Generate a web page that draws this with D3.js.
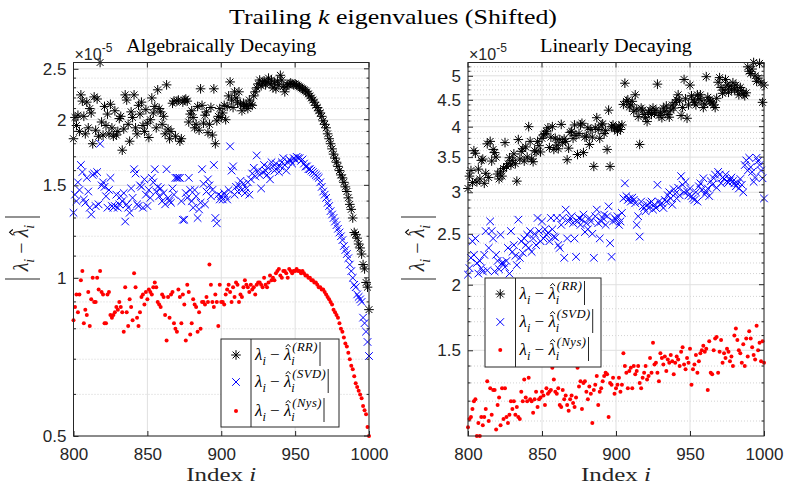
<!DOCTYPE html>
<html><head><meta charset="utf-8">
<script src="https://cdn.jsdelivr.net/npm/d3@7"></script>
<style>body{margin:0;background:#fff}svg{display:block}</style>
</head><body>
<svg id="chart" width="785" height="485"></svg>
<script>
// ---------- data (values ×1e-5) ----------
const indices = d3.range(800, 1001);           // Index i
const xTicks = [800, 850, 900, 950, 1000];
const leftYTicks = [0.5, 1, 1.5, 2, 2.5];
const rightYTicks = [1.5, 2, 2.5, 3, 3.5, 4, 4.5, 5];
const seriesNames = ["RR", "SVD", "Nys"];

const algRR = [
1.84,2.02,1.95,2.04,1.90,2.23,2.17,2.03,1.88,2.16,
1.93,2.10,2.06,1.80,2.21,1.91,2.19,1.86,2.57,1.98,
1.87,2.12,1.95,2.05,1.88,2.14,1.93,1.86,2.08,1.87,
1.90,2.01,2.03,1.75,1.92,2.23,2.18,1.96,1.82,2.07,
2.02,2.23,1.93,1.88,2.13,2.05,2.16,1.95,1.90,2.09,
1.97,1.85,2.00,2.20,2.06,2.12,1.93,2.28,2.10,2.07,
1.96,2.03,1.88,2.33,1.92,1.84,1.90,2.15,2.17,1.86,
2.17,2.18,1.82,1.84,2.16,2.18,2.19,2.17,1.98,2.05,
2.08,2.02,1.93,1.96,2.12,1.91,2.29,2.13,1.97,2.04,
2.07,1.89,1.96,2.11,1.87,2.29,1.80,1.99,2.03,2.10,
2.02,2.06,2.13,2.00,2.12,2.22,2.36,2.18,2.11,2.26,
2.20,2.16,2.26,2.14,2.08,2.15,2.12,2.13,2.10,2.18,
2.14,2.13,2.22,2.26,2.30,2.34,2.38,2.32,2.35,2.37,
2.33,2.36,2.40,2.34,2.38,2.30,2.35,2.29,2.37,2.33,
2.43,2.38,2.31,2.26,2.31,2.33,2.34,2.35,2.34,2.33,
2.34,2.33,2.32,2.31,2.30,2.29,2.28,2.27,2.26,2.24,
2.22,2.20,2.18,2.16,2.13,2.11,2.08,2.06,2.03,1.99,
1.96,1.93,1.88,1.84,1.80,1.76,1.72,1.69,1.66,1.63,
1.60,1.57,1.55,1.52,1.49,1.46,1.42,1.38,1.35,1.30,
1.22,1.21,1.19,1.16,1.14,1.11,1.06,1.04,0.98,0.96,
0.87];
const algSVD = [
1.33,1.44,1.40,1.52,1.47,1.64,1.59,1.41,1.39,1.55,
1.46,1.36,1.32,1.57,1.58,1.37,1.59,1.38,1.80,1.50,
1.52,1.49,1.43,1.36,1.47,1.55,1.37,1.36,1.37,1.44,
1.36,1.38,1.43,1.40,1.45,1.28,1.38,1.36,1.33,1.48,
1.42,1.61,1.58,1.38,1.37,1.50,1.49,1.36,1.54,1.44,
1.37,1.47,1.42,1.55,1.52,1.61,1.46,1.49,1.43,1.48,
1.40,1.45,1.38,1.61,1.42,1.40,1.39,1.48,1.44,1.55,
1.55,1.55,1.55,1.40,1.29,1.29,1.45,1.42,1.55,1.47,
1.40,1.36,1.47,1.43,1.30,1.35,1.39,1.61,1.51,1.38,
1.46,1.54,1.50,1.43,1.47,1.64,1.30,1.27,1.44,1.41,
1.43,1.41,1.45,1.43,1.41,1.47,1.78,1.60,1.63,1.44,
1.49,1.46,1.50,1.53,1.47,1.51,1.45,1.48,1.52,1.44,
1.54,1.58,1.62,1.56,1.71,1.60,1.57,1.48,1.59,1.64,
1.60,1.57,1.62,1.54,1.66,1.63,1.60,1.65,1.62,1.59,
1.63,1.66,1.69,1.64,1.60,1.66,1.68,1.67,1.65,1.69,
1.68,1.70,1.69,1.69,1.67,1.68,1.65,1.63,1.63,1.61,
1.61,1.60,1.59,1.58,1.57,1.56,1.55,1.52,1.49,1.46,
1.44,1.42,1.39,1.37,1.34,1.32,1.30,1.28,1.26,1.24,
1.22,1.20,1.18,1.15,1.13,1.11,1.09,1.06,1.03,1.00,
0.97,0.96,0.93,0.92,0.91,0.90,0.84,0.82,0.79,0.755,
0.71];
const algNys = [
0.83,0.88,0.93,0.86,0.93,0.99,1.03,0.82,0.87,0.85,
0.94,0.81,0.91,1.00,0.90,0.90,1.00,0.95,1.03,0.94,
0.93,0.82,0.82,0.93,0.94,0.85,0.84,0.85,0.86,0.88,
0.87,0.90,0.88,0.86,0.79,0.96,0.86,0.81,0.91,0.88,
0.83,1.02,0.96,0.84,0.81,0.86,0.92,0.93,0.89,0.94,
0.91,0.95,0.94,0.93,0.96,0.98,0.96,0.90,0.89,0.88,
0.93,0.92,0.85,0.76,0.92,0.84,0.93,0.94,0.82,0.80,
0.79,0.95,0.92,0.82,0.93,0.89,0.76,0.97,0.94,0.78,
0.82,0.91,0.89,0.88,0.79,0.86,0.80,0.90,0.90,0.89,
0.92,0.90,1.06,0.97,0.90,0.88,0.93,0.90,0.81,0.97,
0.90,0.90,0.89,0.93,0.95,0.97,0.94,0.90,0.96,0.92,
0.98,0.97,0.90,0.93,0.92,0.96,0.99,0.97,0.96,0.94,
0.97,0.95,0.96,0.93,0.97,0.98,0.98,0.97,0.96,1.00,
0.97,0.96,0.98,1.01,0.99,1.00,0.99,1.02,1.03,1.04,
1.01,1.00,1.03,1.03,1.02,1.00,1.04,1.03,1.02,1.03,
1.03,1.04,1.03,1.03,1.02,1.03,1.02,1.01,1.01,1.00,
1.00,0.99,0.99,0.98,0.98,0.97,0.96,0.96,0.95,0.95,
0.94,0.93,0.92,0.91,0.90,0.89,0.87,0.86,0.85,0.84,
0.82,0.80,0.79,0.77,0.75,0.74,0.72,0.70,0.68,0.67,
0.65,0.63,0.62,0.61,0.60,0.59,0.57,0.56,0.55,0.52,
0.50];
const linRR = [
3.05,3.22,3.30,3.13,3.60,3.56,3.14,3.32,3.18,3.45,
3.47,3.12,3.26,3.71,3.20,3.75,3.44,3.62,3.57,3.50,
3.25,3.18,3.29,3.22,3.33,3.73,3.36,3.40,3.49,3.38,
3.45,3.55,3.40,3.15,3.78,3.47,3.59,3.63,3.44,3.66,
3.50,4.00,3.75,3.47,3.43,3.60,3.58,3.75,3.68,3.58,
3.80,3.86,3.88,3.92,3.98,3.65,3.82,4.00,3.62,3.80,
3.69,3.63,3.78,4.04,3.73,3.79,3.75,3.46,3.64,3.90,
3.92,3.80,4.03,3.85,3.54,3.88,4.03,4.06,3.57,3.82,
3.84,3.98,3.70,3.95,3.82,3.36,3.98,4.16,3.95,3.80,
4.03,4.05,3.88,3.93,3.62,4.30,3.36,4.00,4.03,3.96,
3.98,3.92,4.01,3.95,4.03,4.41,4.84,4.47,4.50,4.36,
4.40,4.47,4.28,4.60,4.32,4.18,3.70,4.34,4.30,4.22,
4.16,4.09,4.26,4.30,4.22,4.34,4.25,4.30,4.82,4.20,
4.25,4.16,4.34,4.28,4.38,4.22,4.17,4.30,4.40,4.34,
4.45,4.50,4.60,4.48,4.20,4.35,4.92,4.52,4.15,4.40,
4.80,4.58,4.50,4.45,4.40,4.60,4.52,4.60,4.48,4.35,
4.42,4.98,4.55,4.50,4.47,4.44,4.40,4.35,4.53,4.86,
4.96,4.75,4.63,4.70,4.92,4.80,4.65,4.78,4.70,4.85,
4.72,4.80,4.68,4.60,4.75,4.69,4.62,4.58,4.64,5.20,
5.10,5.05,5.15,5.30,5.00,4.88,4.95,5.28,4.85,4.45,
4.80];
const linSVD = [
2.09,2.15,2.25,2.42,2.28,2.45,2.20,2.10,2.22,2.15,
2.12,2.28,2.53,2.13,2.35,2.64,2.53,2.45,2.12,2.28,
2.22,2.14,2.49,2.20,2.20,2.16,2.22,2.35,2.10,2.53,
2.31,2.38,2.27,2.18,2.66,2.25,2.42,2.30,2.45,2.38,
2.49,2.35,2.53,2.31,2.45,2.50,2.38,2.68,2.53,2.42,
2.64,2.45,2.55,2.49,2.51,2.42,2.68,2.55,2.47,2.46,
2.68,2.38,2.35,2.60,2.68,2.25,2.78,2.45,2.64,2.68,
2.70,2.62,2.45,2.26,2.64,2.68,2.60,2.66,2.72,2.52,
2.62,2.55,2.68,2.64,2.50,2.25,2.70,2.78,2.62,2.45,
2.64,2.68,2.72,2.60,2.70,2.82,2.40,2.26,2.64,2.68,
2.66,2.70,2.60,2.64,2.74,2.92,3.12,2.95,2.90,2.92,
2.88,2.93,2.90,2.86,2.60,2.70,2.47,2.88,2.82,2.80,
2.76,2.84,2.80,2.86,2.88,2.78,2.84,2.80,3.10,2.88,
2.84,2.86,2.80,2.90,2.88,2.96,3.00,2.92,2.84,3.04,
2.98,2.92,3.06,2.96,3.22,3.10,3.00,3.14,3.01,2.96,
3.05,2.95,2.92,2.90,3.00,2.88,3.08,3.12,3.03,3.19,
2.97,3.01,3.05,2.95,3.15,3.10,3.19,3.24,3.06,3.28,
3.24,3.12,3.20,3.18,3.24,3.15,3.13,3.16,3.20,3.15,
3.12,3.08,3.12,3.05,3.18,3.10,3.00,3.38,3.45,3.30,
3.49,3.35,3.28,3.14,3.20,3.49,3.44,3.38,3.30,3.19,
2.92];
const linNys = [
1.07,1.11,1.12,1.16,1.20,1.21,1.03,1.09,1.03,1.12,
1.08,1.12,1.16,1.31,1.10,1.27,1.13,1.26,1.26,1.06,
1.18,1.22,1.08,1.27,1.11,1.27,1.12,1.09,1.13,1.20,
1.16,1.20,1.13,1.17,1.12,1.11,1.25,1.20,1.32,1.22,
1.20,1.33,1.21,1.20,1.14,1.21,1.25,1.17,1.21,1.22,
1.25,1.23,1.18,1.27,1.24,1.25,1.26,1.39,1.32,1.25,
1.24,1.27,1.18,1.17,1.26,1.21,1.23,1.18,1.15,1.21,
1.23,1.19,1.17,1.22,1.39,1.28,1.31,1.16,1.30,1.31,
1.25,1.21,1.28,1.24,1.09,1.26,1.29,1.34,1.18,1.25,
1.27,1.31,1.34,1.36,1.35,1.12,1.30,1.29,1.33,1.24,
1.27,1.29,1.33,1.25,1.29,1.48,1.40,1.36,1.27,1.37,
1.39,1.27,1.40,1.35,1.37,1.40,1.30,1.27,1.33,1.36,
1.40,1.32,1.34,1.45,1.36,1.55,1.41,1.42,1.36,1.31,
1.48,1.45,1.41,1.46,1.37,1.44,1.42,1.47,1.43,1.35,
1.42,1.46,1.44,1.40,1.49,1.52,1.41,1.38,1.45,1.42,
1.51,1.29,1.38,1.41,1.47,1.36,1.43,1.48,1.50,1.53,
1.49,1.51,1.26,1.56,1.36,1.35,1.50,1.58,1.59,1.36,
1.49,1.57,1.42,1.48,1.45,1.51,1.49,1.43,1.46,1.40,
1.60,1.65,1.57,1.50,1.48,1.42,1.54,1.40,1.58,1.46,
1.63,1.58,1.52,1.47,1.44,1.67,1.50,1.55,1.43,1.56,
1.42];

// ---------- drawing ----------
const svg = d3.select("#chart");
const SERIF = "'Liberation Serif', 'DejaVu Serif', serif";
const SANS = "'Liberation Sans', Arial, sans-serif";
const AX = "#262626";
const Y0 = 62.5, Y1 = 436;
const NB = "\u00A0";

const panels = [
  {title: "Algebraically Decaying", titleW: 190, x0: 73.5, x1: 369, series: [algRR, algSVD, algNys], yTicks: leftYTicks,
   legend: {x: 221, y: 339, w: 118, h: 88, sep: 251, rows: [355, 382, 411]}, ylabX: 22},
  {title: "Linearly Decaying", titleW: 152, x0: 468, x1: 764, series: [linRR, linSVD, linNys], yTicks: rightYTicks,
   legend: {x: 485, y: 278, w: 116, h: 89, sep: 515.5, rows: [294, 322, 350]}, ylabX: 418}
];

function marker(g, kind, cx, cy) {
  if (kind === 0) {
    const a = 4.8, b = 3.4;
    g.append("path").attr("d",
      `M${cx-a},${cy}H${cx+a}M${cx},${cy-a}V${cy+a}M${cx-b},${cy-b}L${cx+b},${cy+b}M${cx-b},${cy+b}L${cx+b},${cy-b}`)
      .attr("stroke", "#000").attr("stroke-width", 1).attr("fill", "none");
  } else if (kind === 1) {
    const c = 3.8;
    g.append("path").attr("d",
      `M${cx-c},${cy-c}L${cx+c},${cy+c}M${cx-c},${cy+c}L${cx+c},${cy-c}`)
      .attr("stroke", "#0000ff").attr("stroke-width", 1).attr("fill", "none");
  } else {
    g.append("circle").attr("cx", cx).attr("cy", cy).attr("r", 2).attr("fill", "#ff0000");
  }
}

function mathText(g, parts, size) {
  let cx = 0;
  for (const p of parts) {
    if (p.stack) {
      const s1 = g.append("text").attr("x", cx).attr("y", size * 0.32)
        .style("font-size", (size * 0.72) + "px").style("font-style", "italic").text(p.stack[0]);
      const s2 = g.append("text").attr("x", cx + 1).attr("y", -size * 0.52)
        .style("font-size", (size * 0.74) + "px").style("font-style", "italic")
        .attr("letter-spacing", "0.5").text(p.stack[1]);
      cx += Math.max(s1.node().getComputedTextLength(), s2.node().getComputedTextLength() + 1);
    } else if (p.sub) {
      const s = g.append("text").attr("x", cx).attr("y", size * 0.32)
        .style("font-size", (size * 0.72) + "px").style("font-style", "italic").text(p.sub);
      cx += s.node().getComputedTextLength();
    } else {
      const t = g.append("text").attr("x", cx).attr("y", 0)
        .style("font-size", size + "px").style("font-style", p.it ? "italic" : "normal").text(p.t);
      const w = t.node().getComputedTextLength();
      if (p.hat) {
        g.append("path").attr("d",
          `M${cx + w*0.25},${-size*0.76} L${cx + w*0.58},${-size*0.92} L${cx + w*0.91},${-size*0.76}`)
          .attr("stroke", "#000").attr("stroke-width", size*0.055).attr("fill", "none");
      }
      cx += w;
    }
  }
  return cx;
}

// Title
const title = svg.append("text").attr("x", 393).attr("y", 24).attr("text-anchor", "middle")
  .attr("textLength", 328).attr("lengthAdjust", "spacingAndGlyphs")
  .style("font-family", SERIF).style("font-size", "22px").attr("fill", "#000");
title.append("tspan").text("Trailing ");
title.append("tspan").style("font-style", "italic").text("k");
title.append("tspan").text(" eigenvalues (Shifted)");

panels.forEach(P => {
  const g = svg.append("g");
  const x = d3.scaleLinear().domain([800, 1000]).range([P.x0, P.x1]);
  const all = P.series.flat();
  const ext = d3.extent(all);
  const y = d3.scaleLog().domain(ext).range([Y1, Y0]);

  // minor grid (every 0.1)
  const minor = d3.range(Math.ceil(ext[0] * 10 - 1e-9), Math.floor(ext[1] * 10 + 1e-9) + 1)
    .map(k => k / 10).filter(v => Math.abs(v * 2 - Math.round(v * 2)) > 1e-6);
  g.selectAll(".mg").data(minor).enter().append("line")
    .attr("x1", P.x0).attr("x2", P.x1).attr("y1", d => y(d)).attr("y2", d => y(d))
    .attr("stroke", "#c8c8c8").attr("stroke-width", 0.8).attr("stroke-dasharray", "1,2");
  // major grid
  g.selectAll(".yg").data(P.yTicks).enter().append("line")
    .attr("x1", P.x0).attr("x2", P.x1).attr("y1", d => y(d)).attr("y2", d => y(d))
    .attr("stroke", "#e0e0e0").attr("stroke-width", 1);
  g.selectAll(".xg").data(xTicks).enter().append("line")
    .attr("y1", Y0).attr("y2", Y1).attr("x1", d => x(d)).attr("x2", d => x(d))
    .attr("stroke", "#e0e0e0").attr("stroke-width", 1);

  // data
  P.series.forEach((vals, si) => {
    const sg = g.append("g");
    vals.forEach((v, k) => marker(sg, si, x(indices[k]), y(v)));
  });

  // box
  g.append("rect").attr("x", P.x0).attr("y", Y0).attr("width", P.x1 - P.x0).attr("height", Y1 - Y0)
    .attr("fill", "none").attr("stroke", AX).attr("stroke-width", 1);

  // axes
  const xa = g.append("g").attr("transform", `translate(0,${Y1})`)
    .call(d3.axisBottom(x).tickValues(xTicks).tickSizeInner(-5).tickSizeOuter(0).tickPadding(12).tickFormat(d3.format("d")));
  xa.select(".domain").remove();
  xa.selectAll("line").attr("stroke", AX);
  xa.selectAll("text").style("font-family", SANS).style("font-size", "17px").attr("fill", AX);
  const ya = g.append("g").attr("transform", `translate(${P.x0},0)`)
    .call(d3.axisLeft(y).tickValues(P.yTicks).tickSizeInner(-5).tickSizeOuter(0).tickPadding(7).tickFormat(d3.format("")));
  ya.select(".domain").remove();
  ya.selectAll("line").attr("stroke", AX);
  ya.selectAll("text").style("font-family", SANS).style("font-size", "17px").attr("fill", AX);
  // top / right ticks
  xTicks.forEach(t => g.append("line").attr("x1", x(t)).attr("x2", x(t)).attr("y1", Y0).attr("y2", Y0 + 5).attr("stroke", AX));
  P.yTicks.forEach(t => g.append("line").attr("x1", P.x1).attr("x2", P.x1 - 5).attr("y1", y(t)).attr("y2", y(t)).attr("stroke", AX));
  minor.forEach(t => {
    g.append("line").attr("x1", P.x0).attr("x2", P.x0 + 2.5).attr("y1", y(t)).attr("y2", y(t)).attr("stroke", AX);
    g.append("line").attr("x1", P.x1).attr("x2", P.x1 - 2.5).attr("y1", y(t)).attr("y2", y(t)).attr("stroke", AX);
  });

  // exponent
  const ex = g.append("text").attr("x", P.x0 + 1).attr("y", 59.5).style("font-family", SANS).style("font-size", "16px").attr("fill", AX);
  ex.append("tspan").text("×10");
  ex.append("tspan").attr("dy", -8).style("font-size", "12px").text("-5");

  // subplot title
  g.append("text").attr("x", (P.x0 + P.x1) / 2).attr("y", 52).attr("text-anchor", "middle")
    .attr("textLength", P.titleW).attr("lengthAdjust", "spacingAndGlyphs")
    .style("font-family", SERIF).style("font-size", "18px").attr("fill", "#000").text(P.title);

  // x label
  const xl = g.append("text").attr("x", (P.x0 + P.x1) / 2).attr("y", 481).attr("text-anchor", "middle")
    .attr("textLength", 70).attr("lengthAdjust", "spacingAndGlyphs")
    .style("font-family", SERIF).style("font-size", "18px").attr("fill", AX);
  xl.append("tspan").text("Index" + NB);
  xl.append("tspan").style("font-style", "italic").text("i");

  // y label
  const yl = g.append("g").attr("transform", `translate(${P.ylabX},248) rotate(-90)`)
    .style("font-family", SERIF).attr("fill", AX);
  const inner = yl.append("g");
  const w = mathText(inner, [{t: "λ", it: true}, {sub: "i"}, {t: NB + "−" + NB}, {t: "λ", it: true, hat: true}, {sub: "i"}], 20);
  inner.attr("transform", `translate(${-w / 2},6)`);
  yl.append("line").attr("x1", -31).attr("x2", -31).attr("y1", -17).attr("y2", 18).attr("stroke", AX).attr("stroke-width", 1.1);
  yl.append("line").attr("x1", 31).attr("x2", 31).attr("y1", -17).attr("y2", 18).attr("stroke", AX).attr("stroke-width", 1.1);

  // legend
  const L = P.legend;
  const lg = svg.append("g");
  lg.append("rect").attr("x", L.x).attr("y", L.y).attr("width", L.w).attr("height", L.h)
    .attr("fill", "#fff").attr("stroke", AX).attr("stroke-width", 1);
  lg.append("line").attr("x1", L.sep).attr("x2", L.sep).attr("y1", L.y).attr("y2", L.y + L.h).attr("stroke", AX).attr("stroke-width", 1);
  seriesNames.forEach((nm, si) => {
    const ry = L.rows[si];
    marker(lg, si, (L.x + L.sep) / 2, ry);
    const tg = lg.append("g").attr("transform", `translate(${L.sep + 4},${ry + 5})`)
      .style("font-family", SERIF).attr("fill", "#000");
    const tw = mathText(tg, [{t: "λ", it: true}, {sub: "i"}, {t: NB + "−" + NB}, {t: "λ", it: true, hat: true}, {stack: ["i", "(" + nm + ")"]}], 17);
    const bx = Math.min(L.sep + 4 + tw + 2, L.x + L.w - 3);
    lg.append("line").attr("x1", bx).attr("x2", bx).attr("y1", ry - 13).attr("y2", ry + 11).attr("stroke", AX).attr("stroke-width", 1);
  });
});
</script>
</body></html>
